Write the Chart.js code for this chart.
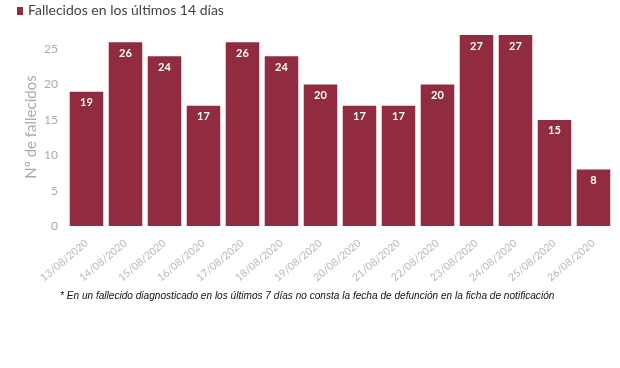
<!DOCTYPE html>
<html>
<head>
<meta charset="utf-8">
<script src="https://cdn.jsdelivr.net/npm/chart.js@4"></script>
<style>
  body { margin: 0; background: #fff; }
  #wrap { position: relative; width: 620px; height: 368px; }
  #chartBox { position: absolute; left: 0; top: 0; width: 620px; height: 300px; }
  #legend { position: absolute; left: 17px; top: 1px; font: 14px Lato, sans-serif; color: #444; white-space: nowrap; }
  #legend span { display: inline-block; width: 6px; height: 8px; background: #912c40; margin-right: 5px; vertical-align: 0px; }
  #note { position: absolute; left: 60px; top: 290px; font: italic 10.1px "Liberation Sans", sans-serif; color: #111; white-space: nowrap; }
</style>
</head>
<body>
<div id="wrap">
  <div id="chartBox"><canvas id="chart"></canvas></div>
  <div id="legend"><span></span>Fallecidos en los últimos 14 días</div>
  <div id="note">* En un fallecido diagnosticado en los últimos 7 días no consta la fecha de defunción en la ficha de notificación</div>
</div>
<script>
// Data
const labels = ['13/08/2020', '14/08/2020', '15/08/2020', '16/08/2020', '17/08/2020', '18/08/2020', '19/08/2020',
    '20/08/2020', '21/08/2020', '22/08/2020', '23/08/2020', '24/08/2020', '25/08/2020', '26/08/2020'];
const deaths = [19, 26, 24, 17, 26, 24, 20, 17, 17, 20, 27, 27, 15, 8];
const seriesName = 'Fallecidos en los últimos 14 días';
const yTicks = [0, 5, 10, 15, 20, 25];

const barColor = '#912c40';

// Value labels inside the top of each bar
const barLabels = {
    id: 'barLabels',
    afterDatasetsDraw(chart) {
        const ctx = chart.ctx;
        const meta = chart.getDatasetMeta(0);
        ctx.save();
        ctx.fillStyle = '#fff';
        ctx.font = 'bold 11px Lato, sans-serif';
        ctx.textAlign = 'center';
        ctx.textBaseline = 'middle';
        meta.data.forEach((bar, i) => {
            ctx.fillText(deaths[i], bar.x, bar.y + 11);
        });
        ctx.restore();
    }
};

new Chart(document.getElementById('chart'), {
    type: 'bar',
    data: {
        labels: labels,
        datasets: [{
            label: seriesName,
            data: deaths,
            backgroundColor: barColor,
            barPercentage: 0.86,
            categoryPercentage: 1
        }]
    },
    options: {
        responsive: true,
        maintainAspectRatio: false,
        animation: false,
        layout: { padding: { left: 0, right: 7, top: 28, bottom: 0 } },
        plugins: {
            tooltip: { enabled: false },
            legend: { display: false }
        },
        scales: {
            x: {
                grid: { display: false },
                border: { display: false },
                afterFit: scale => { scale.height = 74; },
                ticks: {
                    color: '#b8b8b8',
                    minRotation: 40,
                    maxRotation: 40,
                    padding: 3,
                    font: { family: 'Lato, sans-serif', size: 10.5 }
                }
            },
            y: {
                min: 0,
                max: 28,
                grid: { display: false },
                border: { display: false },
                afterFit: scale => { scale.width = 67; },
                afterBuildTicks: scale => { scale.ticks = yTicks.map(v => ({ value: v })); },
                ticks: {
                    color: '#aaa',
                    padding: 1,
                    font: { family: 'Lato, sans-serif', size: 12 }
                },
                title: {
                    display: true,
                    text: 'Nº de fallecidos',
                    color: '#aaa',
                    padding: { top: 22, bottom: 0 },
                    font: { family: 'Lato, sans-serif', size: 15 }
                }
            }
        }
    },
    plugins: [barLabels]
});
</script>
</body>
</html>
